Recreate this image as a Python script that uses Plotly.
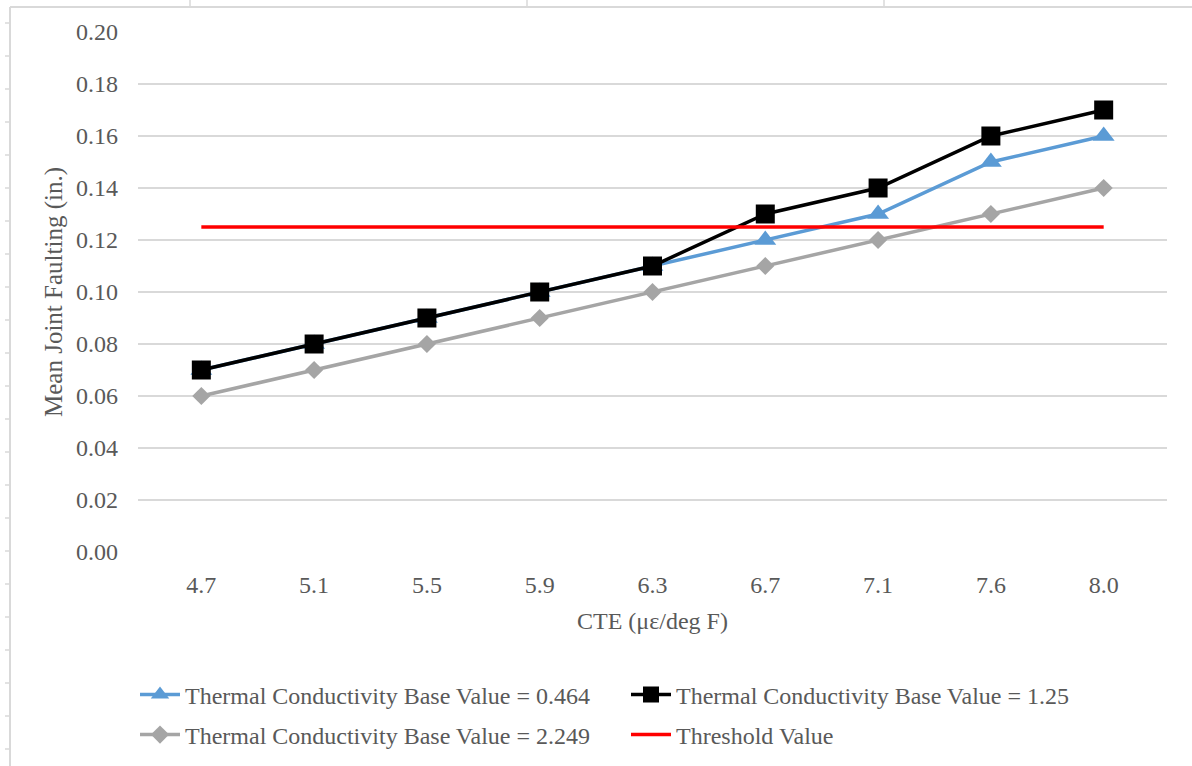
import plotly.graph_objects as go

cte = ["4.7", "5.1", "5.5", "5.9", "6.3", "6.7", "7.1", "7.6", "8.0"]
tc_0464 = [0.07, 0.08, 0.09, 0.10, 0.11, 0.12, 0.13, 0.15, 0.16]
tc_125 = [0.07, 0.08, 0.09, 0.10, 0.11, 0.13, 0.14, 0.16, 0.17]
tc_2249 = [0.06, 0.07, 0.08, 0.09, 0.10, 0.11, 0.12, 0.13, 0.14]
threshold = [0.125] * len(cte)
y_ticks = [0.00, 0.02, 0.04, 0.06, 0.08, 0.10, 0.12, 0.14, 0.16, 0.18, 0.20]

FONT = "Liberation Serif, Times New Roman, serif"
TXT = "#595959"
W, H = 1192, 766

fig = go.Figure()
fig.add_trace(go.Scatter(
    x=cte, y=tc_0464, mode="lines+markers",
    name="Thermal Conductivity Base Value = 0.464", legend="legend",
    line=dict(color="#5B9BD5", width=3.5),
    marker=dict(symbol="triangle-up", size=19, color="#5B9BD5")))
fig.add_trace(go.Scatter(
    x=cte, y=tc_125, mode="lines+markers",
    name="Thermal Conductivity Base Value = 1.25", legend="legend",
    line=dict(color="#000000", width=3.5),
    marker=dict(symbol="square", size=19, color="#000000")))
fig.add_trace(go.Scatter(
    x=cte, y=tc_2249, mode="lines+markers",
    name="Thermal Conductivity Base Value = 2.249", legend="legend2",
    line=dict(color="#A5A5A5", width=3.5),
    marker=dict(symbol="diamond", size=14, color="#A5A5A5")))
fig.add_trace(go.Scatter(
    x=cte, y=threshold, mode="lines",
    name="Threshold Value", legend="legend2",
    line=dict(color="#FF0000", width=3.5)))

# pixel -> paper helpers
L, R, T, B = 138, 1167, 32, 552
def px(xp):
    return (xp - L) / (R - L)
def py(yp):
    return (B - yp) / (B - T)

FRAME = "#D9D9D9"
shapes = [
    dict(type="line", xref="paper", yref="paper", x0=px(10), x1=px(1200),
         y0=py(7), y1=py(7), line=dict(color=FRAME, width=2)),
    dict(type="line", xref="paper", yref="paper", x0=px(10), x1=px(10),
         y0=py(7), y1=py(780), line=dict(color=FRAME, width=2)),
]
for xt in [190, 527, 884]:
    shapes.append(dict(type="line", xref="paper", yref="paper", x0=px(xt), x1=px(xt),
                       y0=py(0), y1=py(7), line=dict(color=FRAME, width=1.5)))
yt = 23
while yt < 766:
    shapes.append(dict(type="line", xref="paper", yref="paper", x0=px(5), x1=px(9),
                       y0=py(yt), y1=py(yt), line=dict(color=FRAME, width=1.5)))
    yt += 33

leg_common = dict(orientation="h", xanchor="left", yanchor="middle",
                  xref="container", yref="container",
                  entrywidth=436, entrywidthmode="pixels",
                  font=dict(family=FONT, size=24, color=TXT),
                  itemwidth=40, bgcolor="rgba(0,0,0,0)")

fig.update_layout(
    width=W, height=H,
    margin=dict(l=L, r=W - R, t=T, b=H - B, autoexpand=False),
    plot_bgcolor="white", paper_bgcolor="white",
    font=dict(family=FONT, color=TXT, size=24),
    showlegend=True,
    shapes=shapes,
    legend=dict(x=135 / W, y=1 - 695 / H, **leg_common),
    legend2=dict(x=135 / W, y=1 - 735 / H, **leg_common),
    xaxis=dict(type="category", showgrid=False, showline=False, zeroline=False,
               automargin=False,
               ticks="", tickfont=dict(size=24, color=TXT), ticklabelstandoff=16,
               title=dict(text="CTE (\u03bc\u03b5/deg F)", font=dict(size=24, color=TXT), standoff=15)),
    yaxis=dict(range=[0, 0.2], tickvals=y_ticks, tickformat=".2f",
               automargin=False,
               showgrid=True, gridcolor=FRAME, gridwidth=1.5,
               zeroline=False, showline=False, ticks="", ticklabelstandoff=19,
               tickfont=dict(size=24, color=TXT),
               title=dict(text="Mean Joint Faulting (in.)", font=dict(size=25, color=TXT), standoff=6)),
)
fig.write_html("out.html")
